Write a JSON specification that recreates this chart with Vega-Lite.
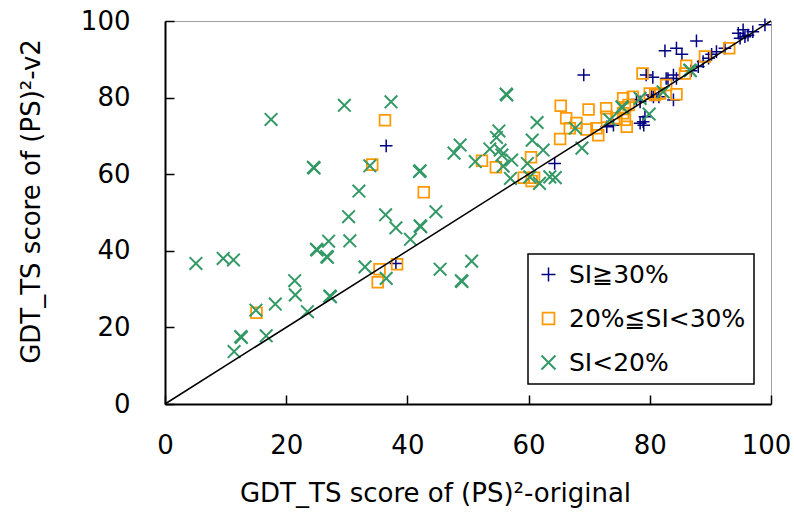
{
  "$schema": "https://vega.github.io/schema/vega-lite/v6.json",
  "width": 606,
  "height": 383,
  "autosize": {"type": "none"},
  "padding": {"left": 165, "top": 21, "right": 23, "bottom": 115},
  "config": {
    "font": "DejaVu Sans",
    "view": {"stroke": "#a0a0a0", "strokeWidth": 1},
    "axis": {
      "grid": false,
      "domainColor": "black",
      "domainWidth": 2,
      "tickColor": "black",
      "tickWidth": 1.5,
      "tickSize": -9,
      "labelFlush": false,
      "labelOverlap": false,
      "labelFontSize": 26,
      "labelColor": "black",
      "titleFontSize": 26,
      "titleFontWeight": "normal",
      "titleColor": "black"
    },
    "legend": {
      "orient": "none",
      "legendX": 363,
      "legendY": 233,
      "strokeColor": "black",
      "strokeWidth": 1.5,
      "fillColor": "white",
      "padding": 8,
      "labelFontSize": 25,
      "labelColor": "black",
      "labelLimit": 400,
      "labelOffset": 8,
      "rowPadding": 18,
      "symbolSize": 196,
      "symbolStrokeWidth": 1.5,
      "symbolFillColor": "transparent",
      "title": null
    }
  },
  "datasets": {
    "pts": [
      {"x": 36.5, "y": 67.4, "g": "SI≧30%"},
      {"x": 38.1, "y": 36.7, "g": "SI≧30%"},
      {"x": 64.3, "y": 62.8, "g": "SI≧30%"},
      {"x": 69.1, "y": 85.9, "g": "SI≧30%"},
      {"x": 79.4, "y": 85.9, "g": "SI≧30%"},
      {"x": 82.7, "y": 85.0, "g": "SI≧30%"},
      {"x": 78.4, "y": 78.9, "g": "SI≧30%"},
      {"x": 80.6, "y": 80.2, "g": "SI≧30%"},
      {"x": 81.5, "y": 80.2, "g": "SI≧30%"},
      {"x": 72.9, "y": 72.4, "g": "SI≧30%"},
      {"x": 74.0, "y": 72.8, "g": "SI≧30%"},
      {"x": 78.9, "y": 73.7, "g": "SI≧30%"},
      {"x": 79.2, "y": 75.0, "g": "SI≧30%"},
      {"x": 99.0, "y": 99.0, "g": "SI≧30%"},
      {"x": 95.4, "y": 97.7, "g": "SI≧30%"},
      {"x": 96.2, "y": 96.3, "g": "SI≧30%"},
      {"x": 95.7, "y": 95.9, "g": "SI≧30%"},
      {"x": 94.6, "y": 96.8, "g": "SI≧30%"},
      {"x": 94.9, "y": 95.5, "g": "SI≧30%"},
      {"x": 97.0, "y": 97.2, "g": "SI≧30%"},
      {"x": 87.7, "y": 94.8, "g": "SI≧30%"},
      {"x": 82.5, "y": 92.2, "g": "SI≧30%"},
      {"x": 84.4, "y": 92.9, "g": "SI≧30%"},
      {"x": 85.3, "y": 91.3, "g": "SI≧30%"},
      {"x": 92.4, "y": 92.9, "g": "SI≧30%"},
      {"x": 91.0, "y": 92.0, "g": "SI≧30%"},
      {"x": 90.2, "y": 91.3, "g": "SI≧30%"},
      {"x": 89.7, "y": 90.3, "g": "SI≧30%"},
      {"x": 88.8, "y": 89.4, "g": "SI≧30%"},
      {"x": 88.0, "y": 88.1, "g": "SI≧30%"},
      {"x": 86.8, "y": 87.0, "g": "SI≧30%"},
      {"x": 83.9, "y": 85.9, "g": "SI≧30%"},
      {"x": 84.4, "y": 85.0, "g": "SI≧30%"},
      {"x": 83.0, "y": 85.0, "g": "SI≧30%"},
      {"x": 80.5, "y": 85.3, "g": "SI≧30%"},
      {"x": 80.3, "y": 80.7, "g": "SI≧30%"},
      {"x": 83.9, "y": 79.4, "g": "SI≧30%"},
      {"x": 78.4, "y": 73.3, "g": "SI≧30%"},
      {"x": 79.0, "y": 72.8, "g": "SI≧30%"},
      {"x": 77.8, "y": 79.5, "g": "SI≧30%"},
      {"x": 36.3, "y": 74.1, "g": "20%≦SI<30%"},
      {"x": 34.2, "y": 62.5, "g": "20%≦SI<30%"},
      {"x": 42.7, "y": 55.3, "g": "20%≦SI<30%"},
      {"x": 35.4, "y": 35.2, "g": "20%≦SI<30%"},
      {"x": 38.3, "y": 36.5, "g": "20%≦SI<30%"},
      {"x": 35.1, "y": 31.8, "g": "20%≦SI<30%"},
      {"x": 15.1, "y": 23.8, "g": "20%≦SI<30%"},
      {"x": 65.3, "y": 77.9, "g": "20%≦SI<30%"},
      {"x": 66.2, "y": 74.6, "g": "20%≦SI<30%"},
      {"x": 65.2, "y": 69.2, "g": "20%≦SI<30%"},
      {"x": 52.3, "y": 63.5, "g": "20%≦SI<30%"},
      {"x": 54.6, "y": 61.8, "g": "20%≦SI<30%"},
      {"x": 60.4, "y": 64.4, "g": "20%≦SI<30%"},
      {"x": 59.2, "y": 59.1, "g": "20%≦SI<30%"},
      {"x": 60.9, "y": 59.1, "g": "20%≦SI<30%"},
      {"x": 60.5, "y": 58.2, "g": "20%≦SI<30%"},
      {"x": 78.8, "y": 86.3, "g": "20%≦SI<30%"},
      {"x": 82.7, "y": 83.3, "g": "20%≦SI<30%"},
      {"x": 69.9, "y": 76.9, "g": "20%≦SI<30%"},
      {"x": 72.8, "y": 77.2, "g": "20%≦SI<30%"},
      {"x": 75.6, "y": 79.8, "g": "20%≦SI<30%"},
      {"x": 77.2, "y": 80.2, "g": "20%≦SI<30%"},
      {"x": 76.5, "y": 78.1, "g": "20%≦SI<30%"},
      {"x": 80.0, "y": 81.1, "g": "20%≦SI<30%"},
      {"x": 81.7, "y": 81.1, "g": "20%≦SI<30%"},
      {"x": 67.9, "y": 73.4, "g": "20%≦SI<30%"},
      {"x": 66.8, "y": 72.0, "g": "20%≦SI<30%"},
      {"x": 69.6, "y": 71.7, "g": "20%≦SI<30%"},
      {"x": 71.2, "y": 72.0, "g": "20%≦SI<30%"},
      {"x": 71.5, "y": 70.2, "g": "20%≦SI<30%"},
      {"x": 72.9, "y": 75.0, "g": "20%≦SI<30%"},
      {"x": 74.5, "y": 74.6, "g": "20%≦SI<30%"},
      {"x": 75.9, "y": 74.2, "g": "20%≦SI<30%"},
      {"x": 76.2, "y": 72.4, "g": "20%≦SI<30%"},
      {"x": 75.6, "y": 75.9, "g": "20%≦SI<30%"},
      {"x": 75.9, "y": 77.5, "g": "20%≦SI<30%"},
      {"x": 93.1, "y": 92.9, "g": "20%≦SI<30%"},
      {"x": 89.1, "y": 90.7, "g": "20%≦SI<30%"},
      {"x": 86.0, "y": 88.3, "g": "20%≦SI<30%"},
      {"x": 85.8, "y": 86.3, "g": "20%≦SI<30%"},
      {"x": 84.4, "y": 80.9, "g": "20%≦SI<30%"},
      {"x": 80.9, "y": 80.7, "g": "20%≦SI<30%"},
      {"x": 17.5, "y": 74.3, "g": "SI<20%"},
      {"x": 29.6, "y": 78.0, "g": "SI<20%"},
      {"x": 37.3, "y": 78.9, "g": "SI<20%"},
      {"x": 24.5, "y": 61.8, "g": "SI<20%"},
      {"x": 24.6, "y": 61.6, "g": "SI<20%"},
      {"x": 33.8, "y": 62.2, "g": "SI<20%"},
      {"x": 42.0, "y": 60.7, "g": "SI<20%"},
      {"x": 42.1, "y": 60.9, "g": "SI<20%"},
      {"x": 32.0, "y": 55.6, "g": "SI<20%"},
      {"x": 47.7, "y": 65.5, "g": "SI<20%"},
      {"x": 48.7, "y": 67.6, "g": "SI<20%"},
      {"x": 30.3, "y": 48.9, "g": "SI<20%"},
      {"x": 36.4, "y": 49.4, "g": "SI<20%"},
      {"x": 38.1, "y": 46.0, "g": "SI<20%"},
      {"x": 42.1, "y": 46.5, "g": "SI<20%"},
      {"x": 42.2, "y": 46.3, "g": "SI<20%"},
      {"x": 44.7, "y": 50.2, "g": "SI<20%"},
      {"x": 27.0, "y": 42.5, "g": "SI<20%"},
      {"x": 30.5, "y": 42.6, "g": "SI<20%"},
      {"x": 40.5, "y": 43.0, "g": "SI<20%"},
      {"x": 5.1, "y": 36.7, "g": "SI<20%"},
      {"x": 9.6, "y": 38.0, "g": "SI<20%"},
      {"x": 11.3, "y": 37.6, "g": "SI<20%"},
      {"x": 25.0, "y": 40.4, "g": "SI<20%"},
      {"x": 25.1, "y": 40.2, "g": "SI<20%"},
      {"x": 26.7, "y": 38.5, "g": "SI<20%"},
      {"x": 26.8, "y": 38.3, "g": "SI<20%"},
      {"x": 33.0, "y": 35.8, "g": "SI<20%"},
      {"x": 36.5, "y": 32.8, "g": "SI<20%"},
      {"x": 45.4, "y": 35.2, "g": "SI<20%"},
      {"x": 50.6, "y": 37.3, "g": "SI<20%"},
      {"x": 48.9, "y": 32.2, "g": "SI<20%"},
      {"x": 49.0, "y": 32.0, "g": "SI<20%"},
      {"x": 21.4, "y": 32.2, "g": "SI<20%"},
      {"x": 21.5, "y": 28.5, "g": "SI<20%"},
      {"x": 18.2, "y": 26.1, "g": "SI<20%"},
      {"x": 15.0, "y": 24.5, "g": "SI<20%"},
      {"x": 23.5, "y": 24.1, "g": "SI<20%"},
      {"x": 27.2, "y": 28.2, "g": "SI<20%"},
      {"x": 27.3, "y": 28.0, "g": "SI<20%"},
      {"x": 12.5, "y": 17.6, "g": "SI<20%"},
      {"x": 12.6, "y": 17.4, "g": "SI<20%"},
      {"x": 16.7, "y": 17.8, "g": "SI<20%"},
      {"x": 11.4, "y": 13.7, "g": "SI<20%"},
      {"x": 56.3, "y": 80.9, "g": "SI<20%"},
      {"x": 56.4, "y": 80.7, "g": "SI<20%"},
      {"x": 61.4, "y": 73.5, "g": "SI<20%"},
      {"x": 55.1, "y": 71.3, "g": "SI<20%"},
      {"x": 54.7, "y": 69.6, "g": "SI<20%"},
      {"x": 60.6, "y": 68.9, "g": "SI<20%"},
      {"x": 53.6, "y": 66.6, "g": "SI<20%"},
      {"x": 55.3, "y": 66.3, "g": "SI<20%"},
      {"x": 55.6, "y": 65.0, "g": "SI<20%"},
      {"x": 62.4, "y": 66.3, "g": "SI<20%"},
      {"x": 51.2, "y": 63.3, "g": "SI<20%"},
      {"x": 55.8, "y": 62.1, "g": "SI<20%"},
      {"x": 59.8, "y": 62.8, "g": "SI<20%"},
      {"x": 60.2, "y": 59.3, "g": "SI<20%"},
      {"x": 57.0, "y": 58.9, "g": "SI<20%"},
      {"x": 61.8, "y": 57.6, "g": "SI<20%"},
      {"x": 63.5, "y": 59.3, "g": "SI<20%"},
      {"x": 64.4, "y": 59.1, "g": "SI<20%"},
      {"x": 57.2, "y": 63.7, "g": "SI<20%"},
      {"x": 75.4, "y": 77.6, "g": "SI<20%"},
      {"x": 75.5, "y": 77.4, "g": "SI<20%"},
      {"x": 78.4, "y": 79.8, "g": "SI<20%"},
      {"x": 82.2, "y": 81.5, "g": "SI<20%"},
      {"x": 67.7, "y": 72.0, "g": "SI<20%"},
      {"x": 68.8, "y": 66.8, "g": "SI<20%"},
      {"x": 73.4, "y": 74.2, "g": "SI<20%"},
      {"x": 79.9, "y": 75.7, "g": "SI<20%"},
      {"x": 86.6, "y": 87.2, "g": "SI<20%"},
      {"x": 86.7, "y": 87.0, "g": "SI<20%"}
    ],
    "diag": [
      {"x": 0, "y": 0},
      {"x": 100, "y": 100}
    ]
  },
  "layer": [
    {
      "data": {"name": "pts"},
      "mark": {"type": "point", "filled": false, "opacity": 1, "size": 160},
      "encoding": {
        "x": {
          "field": "x", "type": "quantitative",
          "scale": {"domain": [0, 100], "nice": false},
          "axis": {
            "values": [0, 20, 40, 60, 80, 100],
            "title": "GDT_TS score of (PS)²-original",
            "labelPadding": 37,
            "labelOffset": {"expr": "datum.value == 100 ? -5 : 0"},
            "titleX": 270,
            "titleY": 89,
            "titleBaseline": "middle",
            "titleAlign": "center"
          }
        },
        "y": {
          "field": "y", "type": "quantitative",
          "scale": {"domain": [0, 100], "nice": false},
          "axis": {
            "values": [0, 20, 40, 60, 80, 100],
            "title": "GDT_TS score of (PS)²-v2",
            "labelPadding": 44,
            "titleX": -134,
            "titleY": 180,
            "titleBaseline": "middle",
            "titleAlign": "center",
            "titleAngle": -90
          }
        },
        "color": {
          "field": "g", "type": "nominal",
          "scale": {"domain": ["SI≧30%", "20%≦SI<30%", "SI<20%"], "range": ["#000080", "#FF9900", "#339966"]},
          "legend": {"title": null}
        },
        "shape": {
          "field": "g", "type": "nominal",
          "scale": {"domain": ["SI≧30%", "20%≦SI<30%", "SI<20%"], "range": ["M-1,0H1M0,-1V1", "M-0.85,-0.85H0.85V0.85H-0.85Z", "M-1,-1L1,1M-1,1L1,-1"]},
          "legend": {"title": null}
        },
        "strokeWidth": {
          "field": "g", "type": "nominal",
          "scale": {"domain": ["SI≧30%", "20%≦SI<30%", "SI<20%"], "range": [1.5, 2, 1.5]},
          "legend": null
        }
      }
    },
    {
      "data": {"name": "diag"},
      "mark": {"type": "line", "color": "black", "strokeWidth": 1.5},
      "encoding": {
        "x": {"field": "x", "type": "quantitative"},
        "y": {"field": "y", "type": "quantitative"}
      }
    }
  ]
}
